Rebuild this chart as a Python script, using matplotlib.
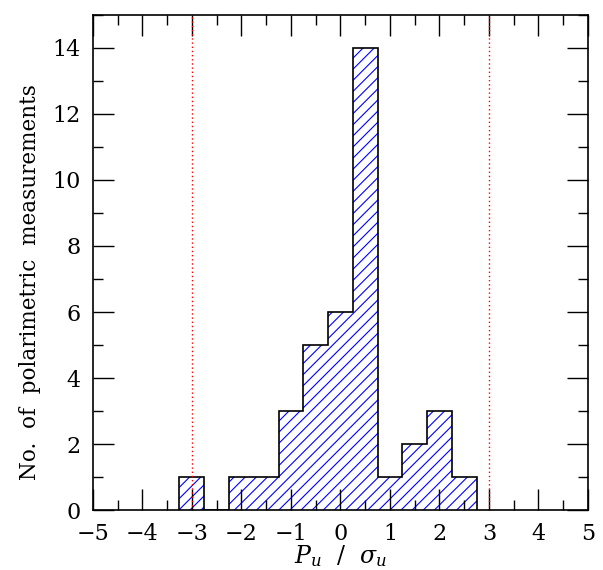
import matplotlib
matplotlib.use("Agg")
import matplotlib.pyplot as plt
import numpy as np
from matplotlib.ticker import MultipleLocator

bin_edges = [-3.25, -2.75, -2.25, -1.75, -1.25, -0.75, -0.25, 0.25, 0.75, 1.25, 1.75, 2.25, 2.75]
counts = [1, 0, 1, 1, 3, 5, 6, 14, 1, 2, 3, 1]
threshold_lines = [-3, 3]

plt.rcParams['font.family'] = ['DejaVu Serif']
plt.rcParams['mathtext.fontset'] = 'dejavuserif'
plt.rcParams['hatch.linewidth'] = 0.8

fig = plt.figure(figsize=(6.03, 5.70), dpi=100)
ax = fig.add_axes([0.154, 0.105, 0.821, 0.869])

edges = np.array(bin_edges)
centers = (edges[:-1] + edges[1:]) / 2
widths = np.diff(edges)
ax.bar(centers, counts, width=widths, facecolor='none', edgecolor='blue',
       hatch='///', linewidth=0)
ax.stairs(counts, edges, color='black', linewidth=1.2)

for xv in threshold_lines:
    ax.axvline(xv, color='red', linestyle=(0, (1, 2)), linewidth=1.0)

ax.set_xlim(-5, 5)
ax.set_ylim(0, 15)
ax.xaxis.set_major_locator(MultipleLocator(1))
ax.xaxis.set_minor_locator(MultipleLocator(0.5))
ax.yaxis.set_major_locator(MultipleLocator(2))
ax.yaxis.set_minor_locator(MultipleLocator(1))
ax.tick_params(which='both', direction='in', top=True, right=True, width=1.0,
               labelsize=16)
ax.tick_params(which='major', length=15)
ax.tick_params(which='minor', length=7.5)
ax.tick_params(axis='x', pad=9)
ax.tick_params(axis='y', pad=9)
for s in ax.spines.values():
    s.set_linewidth(1.2)

ax.set_ylabel('No.  of  polarimetric  measurements', fontsize=15.5)
ax.yaxis.set_label_coords(-0.105, 0.46)
fig.text(0.564, 1 - 543/570, r'$P_u\ \ /\ \ \sigma_u$', fontsize=17,
         ha='center', va='top')

fig.savefig('out.png', dpi=100)
